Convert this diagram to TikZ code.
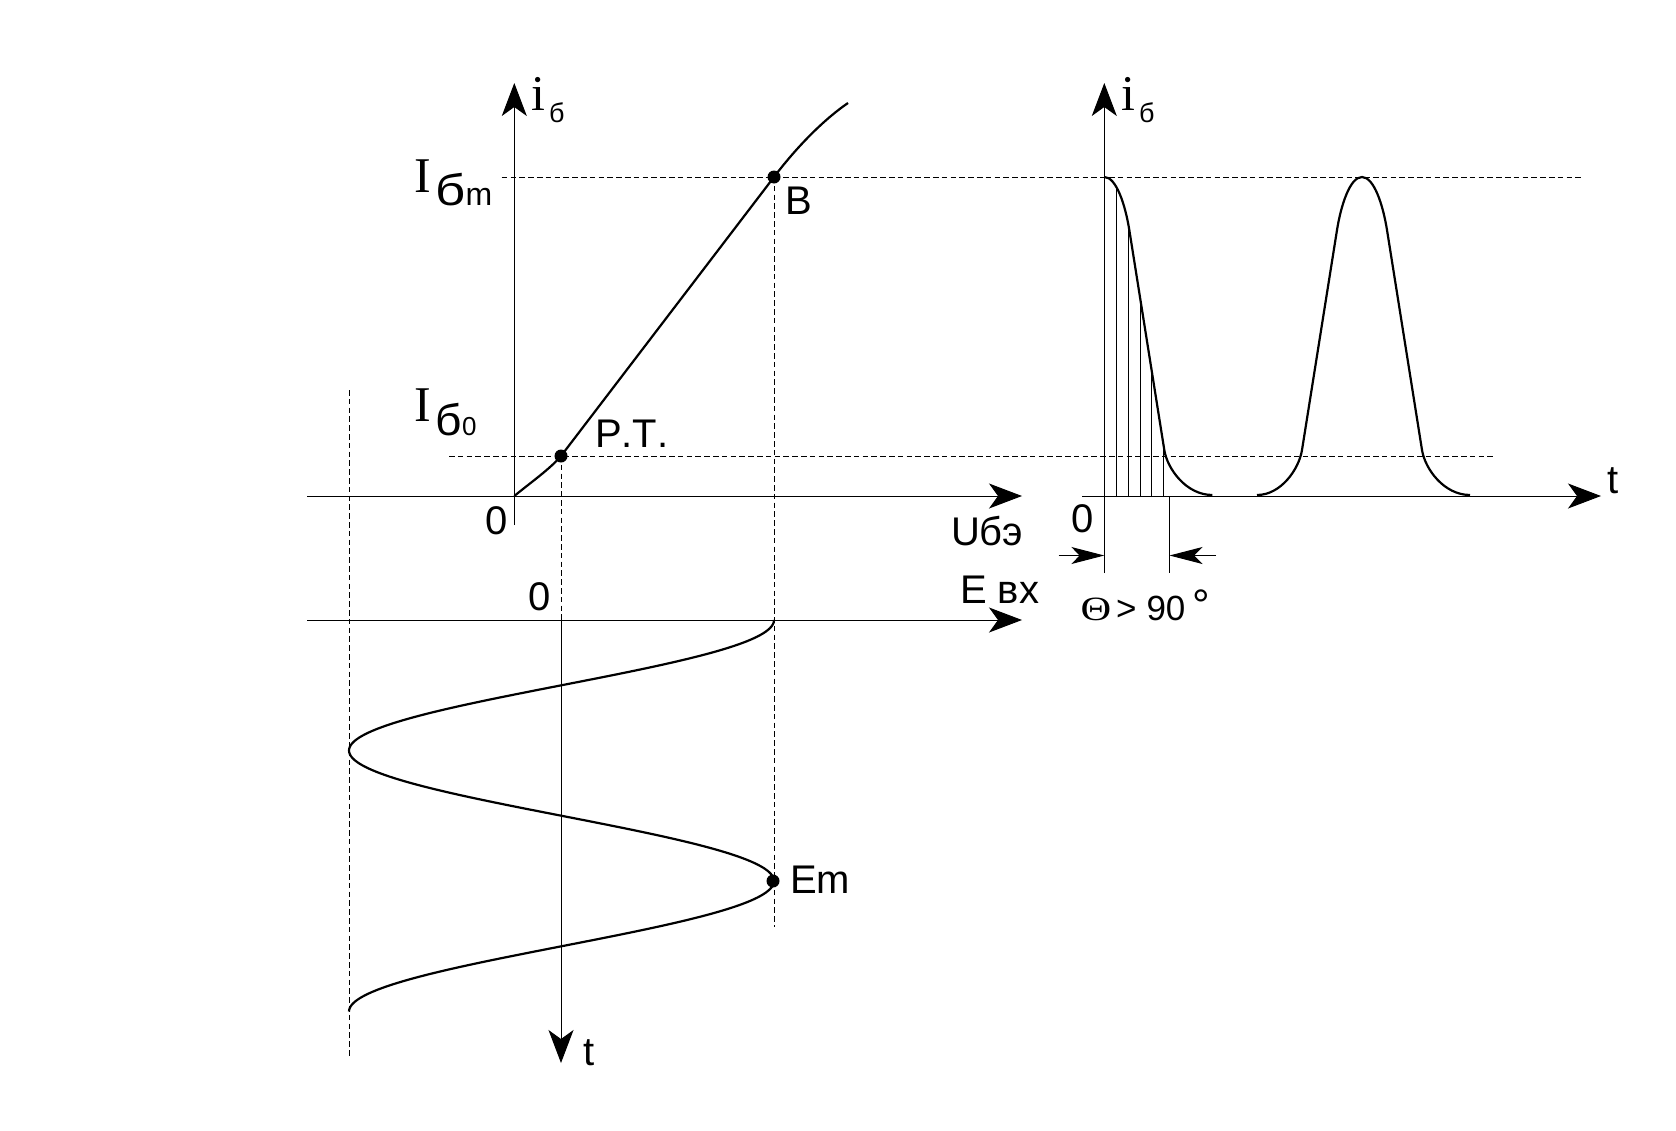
\documentclass[tikz,border=0pt]{standalone}
\usepackage{fontspec}
\usepackage{graphicx}
\setmainfont{Liberation Sans}[Kerning=Off]
\newfontfamily\serifface{Liberation Serif}
\usetikzlibrary{arrows.meta}
\begin{document}
\begin{tikzpicture}[x=0.5pt,y=-0.5pt,
  axisarrow/.style={line width=0.5pt,-{Stealth[length=16.5pt,width=12.5pt,inset=4.5pt]}},
  plainline/.style={line width=0.5pt},
  guideline/.style={line width=0.5pt,dash pattern=on 2.8pt off 1.6pt},
  graphline/.style={line width=1.1pt},
  dimarrow/.style={line width=0.5pt,-{Stealth[length=16.5pt,width=8.5pt,inset=4.2pt]}},
  lbl/.style={inner sep=0pt,outer sep=0pt,anchor=base west,font=\fontsize{20}{24}\selectfont},
  biglbl/.style={inner sep=0pt,outer sep=0pt,anchor=base west,font=\serifface\fontsize{25}{30}\selectfont},
  sublbl/.style={inner sep=0pt,outer sep=0pt,anchor=base west,font=\fontsize{13.5}{16}\selectfont},
  midlbl/.style={inner sep=0pt,outer sep=0pt,anchor=base west,font=\fontsize{17.5}{21}\selectfont},
  pointdot/.style={circle,fill=black,inner sep=0pt,minimum size=6.5pt}
]
\useasboundingbox (0,0) rectangle (1676,1130);

% ---------- key coordinates ----------
% left plot (input characteristic)
\coordinate (O1) at (514.3,496);
\coordinate (Ubeg) at (307,496);
\coordinate (Uend) at (1022,496);
\coordinate (Ibot) at (514.3,525);
\coordinate (Itop) at (514.3,83);
\coordinate (PT) at (561,456);
\coordinate (B) at (774,177);
\coordinate (Ctop) at (848,103);
% lower plot (input signal)
\coordinate (Ebeg) at (307,620);
\coordinate (Eend) at (1022,620);
\coordinate (E0) at (561,620);
\coordinate (tEnd) at (561,1063);
\coordinate (Em) at (774,881);
\coordinate (LeftTop) at (349,390);
\coordinate (LeftBot) at (349,1057);
\coordinate (Bbot) at (774,927);
% guide lines
\coordinate (Imbeg) at (501.7,177);
\coordinate (Imend) at (1583,177);
\coordinate (I0beg) at (449,456);
\coordinate (I0end) at (1494,456);
% right plot (output current)
\coordinate (O2) at (1104.3,496);
\coordinate (Tbeg) at (1082,496);
\coordinate (Tend) at (1601,496);
\coordinate (I2bot) at (1104.3,573);
\coordinate (I2top) at (1104.3,83);
\coordinate (ThR) at (1169.5,496);
\coordinate (ThRbot) at (1169.5,573);
\coordinate (DimL0) at (1058.5,555.5);
\coordinate (DimL1) at (1104.3,555.5);
\coordinate (DimR0) at (1216,555.5);
\coordinate (DimR1) at (1169.5,555.5);

% ---------- guide (dashed) lines ----------
\draw[guideline] (Imbeg) -- (Imend);
\draw[guideline] (I0beg) -- (I0end);
\draw[guideline] (PT) -- (E0);
\draw[guideline] (B) -- (Bbot);
\draw[guideline] (LeftTop) -- (LeftBot);

% ---------- axes ----------
\draw[axisarrow] (Ubeg) -- (Uend);
\draw[axisarrow] (Ibot) -- (Itop);
\draw[axisarrow] (Ebeg) -- (Eend);
\draw[axisarrow] (E0) -- (tEnd);
\draw[axisarrow] (Tbeg) -- (Tend);
\draw[axisarrow] (I2bot) -- (I2top);
\draw[plainline] (ThR) -- (ThRbot);
\draw[dimarrow] (DimL0) -- (DimL1);
\draw[dimarrow] (DimR0) -- (DimR1);

% ---------- transfer characteristic ----------
\draw[graphline] (O1) .. controls (530,483) and (550,469) .. (PT) -- (B)
  .. controls (799,144) and (826,118) .. (Ctop);

% ---------- input sine ----------
\draw[graphline] plot[domain=0:540,samples=241,smooth]
  ({561.5+212.5*cos(\x)},{620+0.725*\x});

% ---------- output pulses ----------
\begin{scope}
  \clip (1104.3,497) -- (1104.3,177) .. controls (1116.3,177) and (1125.3,205) .. (1129.3,230)
    -- (1164.3,450) .. controls (1167.3,469) and (1186.3,495) .. (1212.3,495) -- (1212.3,497) -- cycle;
  \foreach \hx in {1116,1128.7,1140.3,1151.7,1163.3}
    \draw[plainline] (\hx,497) -- (\hx,170);
\end{scope}
\draw[graphline] (1104.3,177) .. controls (1116.3,177) and (1125.3,205) .. (1129.3,230)
  -- (1164.3,450) .. controls (1167.3,469) and (1186.3,495) .. (1212.3,495);
\draw[graphline] (1257,495) .. controls (1281,495) and (1299,469) .. (1302,450)
  -- (1337,230) .. controls (1341,205) and (1350,177) .. (1362,177)
  .. controls (1374,177) and (1383,205) .. (1387,230)
  -- (1422,450) .. controls (1425,469) and (1444,495) .. (1470,495);

% ---------- points ----------
\node[pointdot] (ptdot) at (PT) {};
\node[pointdot] (bdot) at (B) {};
\node[pointdot] (emdot) at (773,881) {};

% ---------- labels ----------
\node[biglbl] (ilabA) at (531.5,110) {i};
\node[sublbl] (ilabAs) at (549,122) {б};
\node[biglbl] (ilabB) at (1121.5,110) {i};
\node[sublbl] (ilabBs) at (1139,122) {б};

\node[biglbl] (Imlab) at (414,192) {I};
\node[lbl,font=\fontsize{22}{26}\selectfont] (Imlabb) at (435,205) {\scalebox{1.2}[1]{б}};
\node[lbl,font=\fontsize{16}{19}\selectfont] (Imlabm) at (465.5,205) {m};

\node[biglbl] (I0lab) at (414,421.5) {I};
\node[lbl,font=\fontsize{22}{26}\selectfont] (I0labb) at (435,435) {\scalebox{1.05}[1]{б}};
\node[lbl,font=\fontsize{13}{16}\selectfont] (I0lab0) at (462,435) {0};

\node[lbl] (ptlab) at (595,447) {P.T.};
\node[lbl] (blab) at (785,214) {B};
\node[lbl] (emlab) at (790,893) {Em};
\node[lbl] (zeroA) at (485,534) {0};
\node[lbl] (zeroE) at (528.5,610) {0};
\node[lbl] (zeroB) at (1071.5,532) {0};
\node[lbl] (ulab) at (951,545) {Uбэ};
\node[lbl] (elab) at (960,603) {E вх};
\node[lbl] (tlabA) at (583.5,1065) {t};
\node[lbl] (tlabB) at (1607.5,493) {t};

\node[inner sep=0pt,outer sep=0pt,anchor=base west,font=\serifface\fontsize{17}{20}\selectfont] (thlab) at (1080.5,620) {\scalebox{1.25}[1]{Θ}};
\node[midlbl] (gtlab) at (1116,620) {>};
\node[midlbl] (ninety) at (1146.5,620) {90};
\node[lbl,font=\fontsize{22}{26}\selectfont] (deglab) at (1192.5,620) {°};
\end{tikzpicture}
\end{document}
